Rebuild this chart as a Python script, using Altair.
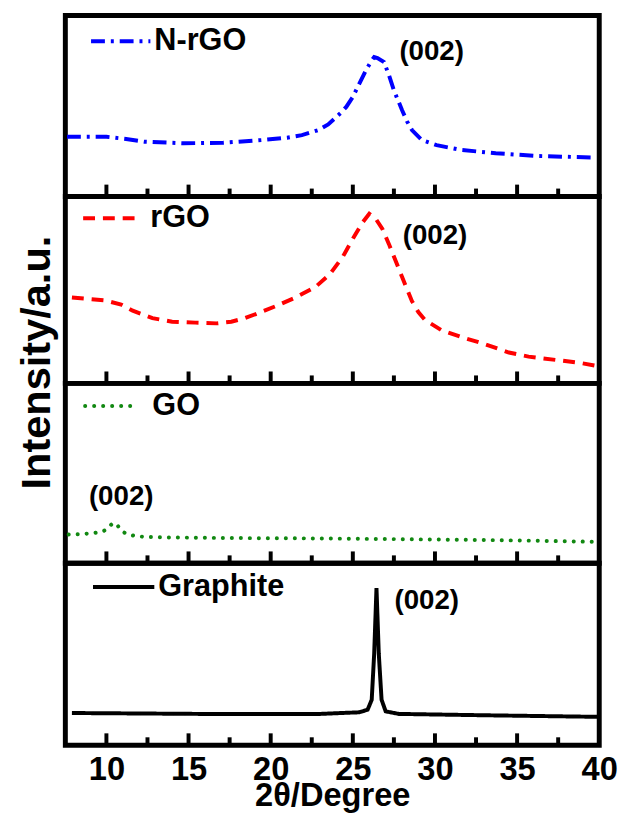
import altair as alt
import pandas as pd

FONT = "Liberation Sans"
X_DOMAIN = [7.5, 40]

# ---- data (2θ in degrees, intensity as fraction of panel height) ----
nrgo_x = [7.6, 10.0, 11.2, 12.3, 14.7, 17.1, 19.5, 21.0, 21.9, 22.9, 23.5, 23.9, 24.3, 24.6,
          25.0, 25.3, 25.8, 26.1, 26.3, 26.5, 26.9, 27.2, 27.5, 28.0, 28.3, 28.6, 29.2,
          30.1, 31.6, 33.7, 36.2, 39.8]
nrgo_y = [0.330, 0.330, 0.318, 0.303, 0.294, 0.297, 0.312, 0.325, 0.339, 0.367, 0.398,
          0.431, 0.465, 0.495, 0.550, 0.606, 0.697, 0.745, 0.771, 0.765, 0.743, 0.670,
          0.587, 0.477, 0.415, 0.367, 0.312, 0.284, 0.257, 0.239, 0.224, 0.215]

rgo_x = [7.9, 9.9, 10.9, 11.6, 12.8, 14.0, 15.4, 16.7, 17.6, 18.4, 19.1, 20.3, 21.5, 22.7,
         23.6, 24.4, 25.1, 25.6, 26.0, 26.4, 26.8, 27.2, 27.5, 28.0, 28.6, 29.0, 29.4,
         30.4, 31.6, 33.0, 34.5, 35.7, 37.4, 38.8, 39.9]
rgo_y = [0.459, 0.444, 0.422, 0.389, 0.349, 0.330, 0.325, 0.321, 0.330, 0.348, 0.371,
         0.413, 0.459, 0.514, 0.584, 0.679, 0.789, 0.862, 0.908, 0.880, 0.826, 0.745,
         0.679, 0.569, 0.440, 0.380, 0.339, 0.284, 0.248, 0.211, 0.165, 0.143, 0.125,
         0.110, 0.092]

go_x = [7.7, 9.2, 9.9, 10.5, 10.9, 11.6, 12.6, 15.7, 22.9, 30.1, 34.9, 39.9]
go_y = [0.160, 0.168, 0.183, 0.224, 0.183, 0.155, 0.146, 0.142, 0.138, 0.132, 0.127, 0.119]

gr_x = [7.9, 15.8, 23.0, 25.4, 25.9, 26.15, 26.3, 26.44, 26.58, 26.75, 27.0, 27.8, 32.7, 39.9]
gr_y = [0.177, 0.172, 0.172, 0.181, 0.195, 0.250, 0.503, 0.864, 0.503, 0.250, 0.186,
        0.172, 0.165, 0.156]

major_ticks = [10, 15, 20, 25, 30, 35]
minor_ticks = [12.5, 17.5, 22.5, 27.5, 32.5, 37.5]
tick_labels = [10, 15, 20, 25, 30, 35, 40]

PANEL_W = 540


def panel(name, xs, ys, color, dash, height, leg_x0, leg_x1, leg_y, txt_x,
          ann_x, ann_y, bottom=False, cap="butt", interp="linear"):
    df = pd.DataFrame({"angle": xs, "intensity": ys})
    xscale = alt.Scale(domain=X_DOMAIN, nice=False, zero=False)
    if bottom:
        xaxis = alt.Axis(values=tick_labels, ticks=False, domain=False, grid=False,
                         labelFontSize=33, labelFontWeight="bold", labelFont=FONT,
                         labelColor="black", labelFlush=False, labelPadding=9,
                         format="d", title="2θ/Degree", titleFontSize=33,
                         titleFontWeight="bold", titleFont=FONT, titleColor="black",
                         titlePadding=-7)
    else:
        xaxis = None
    yscale = alt.Scale(domain=[0, 1])

    line = alt.Chart(df).mark_line(
        color=color, strokeWidth=4, strokeDash=dash, strokeCap=cap,
        interpolate=interp, clip=True
    ).encode(
        x=alt.X("angle:Q", scale=xscale, axis=xaxis),
        y=alt.Y("intensity:Q", scale=yscale, axis=None),
    )

    majors = alt.Chart(pd.DataFrame({"t": major_ticks})).mark_rule(
        color="black", strokeWidth=4
    ).encode(
        x=alt.X("t:Q", scale=xscale, axis=xaxis),
        y=alt.value(height), y2=alt.value(height - 12),
    )
    minors = alt.Chart(pd.DataFrame({"t": minor_ticks})).mark_rule(
        color="black", strokeWidth=4
    ).encode(
        x=alt.X("t:Q", scale=xscale, axis=xaxis),
        y=alt.value(height), y2=alt.value(height - 8),
    )

    leg = pd.DataFrame({"label": [name]})
    leg_line = alt.Chart(leg).mark_rule(
        color=color, strokeWidth=4, strokeDash=dash, strokeCap=cap
    ).encode(x=alt.value(leg_x0), x2=alt.value(leg_x1), y=alt.value(leg_y))
    leg_text = alt.Chart(leg).mark_text(
        align="left", baseline="middle", fontSize=31, fontWeight="bold",
        font=FONT, color="black"
    ).encode(x=alt.value(txt_x), y=alt.value(leg_y), text="label:N")

    ann = alt.Chart(leg).mark_text(
        align="center", baseline="middle", fontSize=28, fontWeight="bold",
        font=FONT, color="black"
    ).encode(x=alt.datum(ann_x, scale=xscale), y=alt.datum(ann_y, scale=yscale),
             text=alt.value("(002)"))

    return alt.layer(line, majors, minors, leg_line, leg_text, ann).properties(
        width=PANEL_W, height=height
    )


p1 = panel("N-rGO", nrgo_x, nrgo_y, "#0000ff", [14, 6, 3, 6], 183, 26, 86, 26, 90, 29.8, 0.80)
p2 = panel("rGO", rgo_x, rgo_y, "#ff0000", [12, 8], 189, 18, 78, 22, 86, 30.0, 0.79)
p3 = panel("GO", go_x, go_y, "#118811", [0.1, 9], 182, 20, 74, 23, 88, 10.9, 0.37,
           cap="round", interp="monotone")
p4 = panel("Graphite", gr_x, gr_y, "#000000", [1, 0], 184, 28, 90, 24, 94, 29.5, 0.79,
           bottom=True)

chart = alt.vconcat(p1, p2, p3, p4, spacing=0, bounds="flush").properties(
    title=alt.TitleParams("Intensity/a.u.", orient="left", anchor="middle",
                          fontSize=42, fontWeight="bold", font=FONT, color="black",
                          offset=4, dx=52),
    padding={"left": 8, "top": 0, "right": 0, "bottom": 0},
).configure_view(
    stroke="black", strokeWidth=5
).configure_axis(
    grid=False
)

chart.save("out.html", embed_options={"renderer": "svg", "actions": False})
